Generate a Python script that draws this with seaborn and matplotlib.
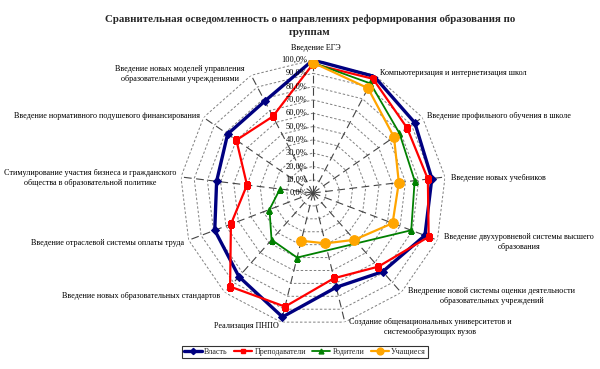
import numpy as np
import pandas as pd
import matplotlib
matplotlib.use("Agg")
import matplotlib.pyplot as plt
import matplotlib.transforms as mtransforms
from matplotlib.lines import Line2D
import seaborn as sns

categories = [
    "Введение ЕГЭ",
    "Компьютеризация и интернетизация школ",
    "Введение профильного обучения в школе",
    "Введение новых учебников",
    "Введение двухуровневой системы высшего\nобразования",
    "Внедрение новой системы оценки деятельности\nобразовательных учреждений",
    "Создание общенациональных университетов и\nсистемообразующих вузов",
    "Реализация ПНПО",
    "Введение новых образовательных стандартов",
    "Введение отраслевой системы оплаты труда",
    "Стимулирование участия бизнеса и гражданского\nобщества в образовательной политике",
    "Введение нормативного подушевого финансирования",
    "Введение новых моделей управления\nобразовательными учреждениями",
]
nan = np.nan
vlast = [1.00, 0.99, 0.93, 0.90, 0.90, 0.79, 0.73, 0.96, 0.84, 0.79, 0.73, 0.78, 0.78]
prepodavateli = [0.97, 0.97, 0.86, 0.87, 0.93, 0.74, 0.66, 0.88, 0.94, 0.66, 0.50, 0.70, 0.65]
roditeli = [0.98, 0.93, 0.79, 0.77, 0.79, nan, nan, 0.50, 0.47, 0.35, 0.25, nan, nan]
uchashiesya = [0.98, 0.89, 0.74, 0.65, 0.64, 0.47, 0.39, 0.37, nan, nan, nan, nan, nan]
series_names = ["Власть", "Преподаватели", "Родители", "Учащиеся"]
radial_ticks = [0.0, 0.1, 0.2, 0.3, 0.4, 0.5, 0.6, 0.7, 0.8, 0.9, 1.0]
radial_labels = ["0,0%", "10,0%", "20,0%", "30,0%", "40,0%", "50,0%",
                 "60,0%", "70,0%", "80,0%", "90,0%", "100,0%"]
title = "Сравнительная осведомленность о направлениях реформирования образования по\nгруппам"

sns.set_theme(style="white")
plt.rcParams["font.family"] = ["Liberation Serif", "DejaVu Serif"]

W, H = 600, 369
fig = plt.figure(figsize=(6, 3.69), dpi=100)
cx, cy, R = 313, 193, 133
ax = fig.add_axes([(cx - R) / W, (H - cy - R) / H, 2 * R / W, 2 * R / H], projection="polar")
ax.set_theta_zero_location("N")
ax.set_theta_direction(-1)
ax.grid(False)
ax.spines["polar"].set_visible(False)
ax.set_facecolor("none")

n = len(categories)
theta = np.arange(n) * 2 * np.pi / n

# polygon grid
for r in radial_ticks[1:]:
    ax.plot(np.append(theta, theta[0]), [r] * (n + 1), color="#7f7f7f",
            lw=0.7, ls=(0, (2.5, 2)), zorder=1)
# spokes
for t in theta:
    ax.plot([t, t], [0, 1.0], color="#444444", lw=0.8, ls=(0, (7, 4)), zorder=1)

styles = [
    dict(color="#000080", marker="D", lw=2.4, ms=4.5, closed=True),
    dict(color="#FF0000", marker="s", lw=1.6, ms=5, closed=True),
    dict(color="#008000", marker="^", lw=1.3, ms=5, closed=False),
    dict(color="#FFA500", marker="o", lw=1.6, ms=7, closed=False),
]
data = [vlast, prepodavateli, roditeli, uchashiesya]
handles = []
for name, vals, st in zip(series_names, data, styles):
    df = pd.DataFrame({"theta": theta, "value": vals}).dropna()
    if st["closed"]:
        df = pd.concat([df, df.iloc[[0]]], ignore_index=True)
    sns.lineplot(data=df, x="theta", y="value", sort=False, estimator=None, ax=ax,
                 color=st["color"], lw=st["lw"], marker=st["marker"], ms=st["ms"],
                 markeredgecolor=st["color"], markerfacecolor=st["color"], zorder=3)
    handles.append(Line2D([], [], color=st["color"], lw=st["lw"], marker=st["marker"],
                          ms=st["ms"] * 0.7, markeredgecolor=st["color"]))

ax.set_ylim(0, 1.0)
ax.set_xticks([])
ax.set_yticks([])
ax.set_xlabel("")
ax.set_ylabel("")

off = mtransforms.ScaledTranslation(-4 / 72, 0, fig.dpi_scale_trans)
for r, lab in zip(radial_ticks, radial_labels):
    ax.text(0, r, lab, transform=ax.transData + off, ha="right", va="center",
            fontsize=6, color="black", zorder=4)

# category label layout (pixel positions, alignment)
label_pos = [
    (316, 48, "center"),
    (380, 73, "left"),
    (427, 116, "left"),
    (451, 178, "left"),
    (519, 242, "center"),
    (492, 296, "center"),
    (430, 327, "center"),
    (246, 326, "center"),
    (220, 296, "right"),
    (184, 243, "right"),
    (90, 178, "center"),
    (200, 116, "right"),
    (180, 74, "center"),
]
for lab, (x, y, ha) in zip(categories, label_pos):
    fig.text(x / W, 1 - y / H, lab, ha=ha, va="center", fontsize=5.9,
             color="black", multialignment="center", linespacing=1.3)

fig.text(310 / W, 1 - 25.5 / H, title, ha="center", va="center", fontsize=7.8,
         fontweight="bold", multialignment="center", linespacing=1.6)

leg = fig.legend(handles, series_names, loc="center", bbox_to_anchor=(305 / W, 1 - 352 / H),
                 ncol=4, frameon=True, fancybox=False, edgecolor="black", fontsize=5.8,
                 handlelength=2.2, columnspacing=0.8, handletextpad=0.3, borderpad=0.3,
                 borderaxespad=0)
leg.get_frame().set_linewidth(0.8)

fig.savefig("out.png", dpi=100, facecolor="white")
